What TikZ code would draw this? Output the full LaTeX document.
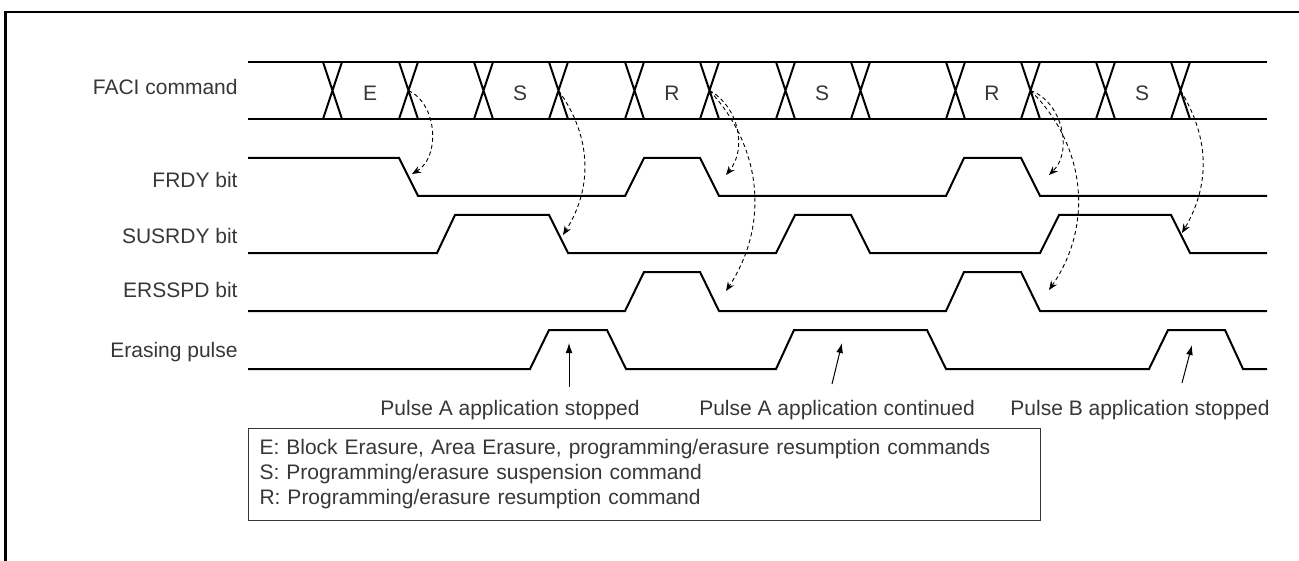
\documentclass[tikz,border=0pt]{standalone}
\usepackage{fontspec}
\setmainfont{Liberation Sans}
\usepackage{tikz}
\usetikzlibrary{arrows.meta}
\definecolor{inkgrey}{RGB}{55,55,55}
\newcommand{\lblfont}{\fontsize{10.5}{12.5}\selectfont}
\tikzset{
  wave/.style={line width=1pt,line join=miter},
  siglbl/.style={anchor=base east,inner sep=0pt,text=inkgrey,font=\lblfont},
  cmdlbl/.style={anchor=base,inner sep=0pt,text=inkgrey,font=\lblfont},
  notelbl/.style={anchor=base,inner sep=0pt,text=inkgrey,font=\lblfont},
  cause/.style={-{Stealth[length=4.5pt,width=3.6pt]},dash pattern=on 2pt off 1.5pt,
                line width=0.45pt},
  note/.style={-{Latex[length=5pt,width=3.4pt]},line width=0.5pt},
  legend/.style={draw=inkgrey,line width=0.5pt,align=left,text=inkgrey,font=\lblfont,
                 text width=385pt,inner xsep=5.5pt,minimum height=46pt},
}

\begin{document}
\begin{tikzpicture}[x=0.5pt,y=-0.5pt]
  \useasboundingbox (0,0) rectangle (1299,561);
  % outer frame
  \draw[line width=1.2pt] (1310,12) -- (5.5,12) -- (5.5,570);

  % signal names
  \node[siglbl] (lfaci)   at (238,95)  {FACI command};
  \node[siglbl] (lfrdy)   at (238,188) {FRDY bit};
  \node[siglbl] (lsusrdy) at (238,243) {SUSRDY bit};
  \node[siglbl] (lersspd) at (238,297) {ERSSPD bit};
  \node[siglbl] (lpulse)  at (238,357) {Erasing pulse};

  % FACI command bus
  \draw[wave] (248,62) -- (1267,62) (248,119) -- (1267,119);
  \foreach \c [count=\i] in {323,399,474,549,625,700,776,851,946,1021,1096,1171}{
    \draw[wave] (\c,62) -- ++(19,57) (\c,119) -- ++(19,-57);
    \coordinate (x\i) at (\c+9.5,90.5);
  }
  \foreach \xx/\cmd [count=\i] in {370/E,520/S,672/R,822/S,992/R,1142/S}
    \node[cmdlbl] (cmd\i) at (\xx,101) {\cmd};

  % FRDY
  \draw[wave] (248,158) -- (399,158) -- (418,196) -- (625,196) -- (644,158)
    -- (700,158) -- (719,196) -- (946,196) -- (964,158) -- (1021,158)
    -- (1040,196) -- (1267,196);
  % SUSRDY
  \draw[wave] (248,253) -- (437,253) -- (455,215) -- (549,215) -- (568,253)
    -- (776,253) -- (795,215) -- (851,215) -- (870,253) -- (1040,253)
    -- (1059,215) -- (1171,215) -- (1190,253) -- (1267,253);
  % ERSSPD
  \draw[wave] (248,311) -- (625,311) -- (644,272) -- (700,272) -- (719,311)
    -- (946,311) -- (964,272) -- (1021,272) -- (1040,311) -- (1267,311);
  % erasing pulse
  \draw[wave] (248,369) -- (530,369) -- (549,330) -- (607,330) -- (626,369)
    -- (776,369) -- (794,330) -- (927,330) -- (946,369) -- (1149,369)
    -- (1168,330) -- (1225,330) -- (1243,369) -- (1267,369);

  % command -> flag
  \coordinate (fr1) at (412,174);
  \coordinate (su1) at (563,235);
  \coordinate (fr2) at (726,175);
  \coordinate (er1) at (726,291);
  \coordinate (fr3) at (1049,175);
  \coordinate (er2) at (1049,290);
  \coordinate (su2) at (1182,233);
  \draw[cause] (x2)  to[bend left=62] (fr1);
  \draw[cause] (x4)  to[bend left=34] (su1);
  \draw[cause] (x6)  to[bend left=50] (fr2);
  \draw[cause] (x6)  to[bend left=38] (er1);
  \draw[cause] (x10) to[bend left=58] (fr3);
  \draw[cause] (x10) to[bend left=40] (er2);
  \draw[cause] (x12) to[bend left=31] (su2);

  % pulse notes
  \node[notelbl] (pa1) at (510,415)  {Pulse A application stopped};
  \node[notelbl] (pa2) at (837,415)  {Pulse A application continued};
  \node[notelbl] (pb1) at (1140,415) {Pulse B application stopped};
  \coordinate (ns1) at (569,387);  \coordinate (ne1) at (569,343);
  \coordinate (ns2) at (832,384);  \coordinate (ne2) at (842,343);
  \coordinate (ns3) at (1182,383); \coordinate (ne3) at (1192,345);
  \draw[note] (ns1) -- (ne1);
  \draw[note] (ns2) -- (ne2);
  \draw[note] (ns3) -- (ne3);

  % key
  \node[legend,anchor=north west] (key) at (248,428)
    {E: Block Erasure, Area Erasure, programming/erasure resumption commands\\
     S: Programming/erasure suspension command\\
     R: Programming/erasure resumption command};
\end{tikzpicture}
\end{document}
